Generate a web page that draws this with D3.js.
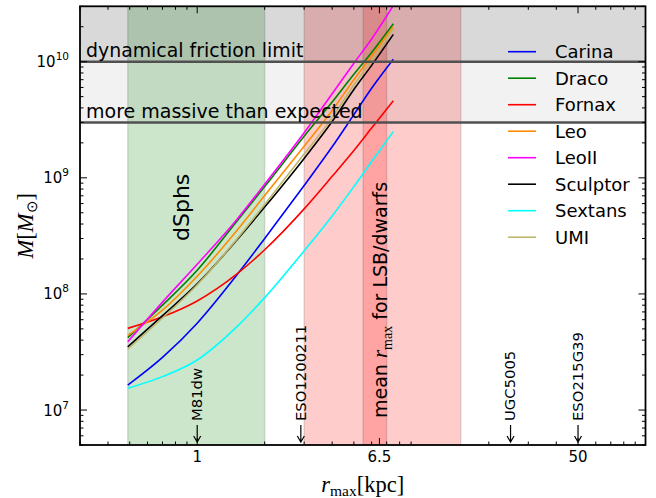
<!DOCTYPE html>
<html>
<head>
<meta charset="utf-8">
<script src="https://cdn.jsdelivr.net/npm/d3@7"></script>
<style>
  body { margin: 0; background: #fff; }
  svg { display: block; font-family: "DejaVu Sans", sans-serif; }
</style>
</head>
<body>
<svg id="chart" width="656" height="498"></svg>
<script>
const rPoints = [0.49, 0.7, 1, 1.5, 2, 3, 4, 5, 6, 7.5]

const galaxies = ["Carina", "Draco", "Fornax", "Leo", "LeoII", "Sculptor", "Sextans", "UMI"]
const galaxyColors = ["#0000ff", "#008000", "#ff0000", "#ff8c00", "#ff00ff", "#000000", "#00ffff", "#bdb76b"]

const massCarina   = [1.64e7, 2.84e7, 5.6e7, 1.45e8, 3.0e8, 8.6e8, 1.85e9, 3.5e9, 5.9e9, 1.05e10]
const massDraco    = [4.2e7, 8.0e7, 1.6e8, 4.2e8, 8.4e8, 2.28e9, 4.5e9, 7.8e9, 1.2e10, 2.12e10]
const massFornax   = [5.05e7, 6.35e7, 8.7e7, 1.48e8, 2.4e8, 5.4e8, 1.03e9, 1.72e9, 2.68e9, 4.6e9]
const massLeo      = [4.4e7, 7.25e7, 1.42e8, 3.5e8, 7.05e8, 1.87e9, 3.8e9, 7.0e9, 1.12e10, 2.0e10]
const massLeoII    = [3.87e7, 8.5e7, 1.8e8, 4.36e8, 8.8e8, 2.44e9, 5.3e9, 9.7e9, 1.57e10, 3.05e10]
const massSculptor = [3.5e7, 6.5e7, 1.22e8, 2.9e8, 5.6e8, 1.47e9, 3.05e9, 5.76e9, 9.3e9, 1.72e10]
const massSextans  = [1.54e7, 1.94e7, 2.7e7, 5.2e7, 9.3e7, 2.35e8, 4.7e8, 8.4e8, 1.38e9, 2.5e9]
const massUMI      = [3.35e7, 6.2e7, 1.2e8, 2.95e8, 5.9e8, 1.6e9, 3.3e9, 6.3e9, 1.03e10, 1.92e10]
const galaxyMasses = [massCarina, massDraco, massFornax, massLeo, massLeoII, massSculptor, massSextans, massUMI]

// shaded r_max ranges
const dsphBand = [0.49, 2]
const lsbBand = [3, 15]
const lsbMeanBand = [5.5, 7]

// mass limits
const frictionLimit = 1e10
const expectedLimit = 3e9

// individual galaxies marked with arrows
const markerNames = ["M81dw", "ESO1200211", "UGC5005", "ESO215G39"]
const markerR = [1, 2.9, 25, 50]

const xTickValues = [1, 6.5, 50]
const xTickLabels = ["1", "6.5", "50"]
const yTickExponents = [7, 8, 9, 10]

const xDomain = [0.3, 100]
const yDomain = [5e6, 3e10]

const pLeft = 80, pRight = 645.5, pTop = 6.3, pBottom = 445

const svg = d3.select("#chart")

const x = d3.scaleLog().domain(xDomain).range([pLeft, pRight])
const y = d3.scaleLog().domain(yDomain).range([pBottom, pTop])

svg.append("defs").append("clipPath").attr("id", "plotclip")
    .append("rect")
    .attr("x", pLeft).attr("y", pTop)
    .attr("width", pRight - pLeft).attr("height", pBottom - pTop)

const plot = svg.append("g").attr("clip-path", "url(#plotclip)")

// vertical bands
const bands = [
    { r: dsphBand, fill: "rgba(0,128,0,0.2)" },
    { r: lsbBand, fill: "rgba(255,0,0,0.2)" },
    { r: lsbMeanBand, fill: "rgba(255,0,0,0.2)" }
]
bands.forEach(b => {
    plot.append("rect")
        .attr("x", x(b.r[0]))
        .attr("y", pTop)
        .attr("width", x(b.r[1]) - x(b.r[0]))
        .attr("height", pBottom - pTop)
        .attr("fill", b.fill)
    b.r.forEach(v => {
        plot.append("line")
            .attr("x1", x(v)).attr("x2", x(v))
            .attr("y1", pTop).attr("y2", pBottom)
            .attr("stroke", "rgba(0,0,0,0.12)")
            .attr("stroke-width", 1.5)
    })
})

// horizontal grey regions
plot.append("rect")
    .attr("x", pLeft).attr("width", pRight - pLeft)
    .attr("y", pTop).attr("height", y(expectedLimit) - pTop)
    .attr("fill", "rgba(0,0,0,0.05)")
plot.append("rect")
    .attr("x", pLeft).attr("width", pRight - pLeft)
    .attr("y", pTop).attr("height", y(frictionLimit) - pTop)
    .attr("fill", "rgba(0,0,0,0.1)")

// mass curves
const line = d3.line()
    .x(d => x(d[0]))
    .y(d => y(d[1]))
    .curve(d3.curveMonotoneX)

galaxyMasses.forEach((masses, i) => {
    plot.append("path")
        .datum(rPoints.map((r, j) => [r, masses[j]]))
        .attr("d", line)
        .attr("fill", "none")
        .attr("stroke", galaxyColors[i])
        .attr("stroke-width", 1.6)
})

// limit lines
;[frictionLimit, expectedLimit].forEach(v => {
    plot.append("line")
        .attr("x1", pLeft).attr("x2", pRight)
        .attr("y1", y(v)).attr("y2", y(v))
        .attr("stroke", "#505050")
        .attr("stroke-width", 2.5)
})

svg.append("text")
    .attr("x", 86).attr("y", y(frictionLimit) - 5)
    .attr("font-size", 18.9)
    .text("dynamical friction limit")
svg.append("text")
    .attr("x", 86).attr("y", y(expectedLimit) - 4)
    .attr("font-size", 19)
    .text("more massive than expected")

// rotated band labels
svg.append("text")
    .attr("transform", `translate(189,241) rotate(-90)`)
    .attr("font-size", 22)
    .text("dSphs")

const meanLabel = svg.append("text")
    .attr("transform", `translate(387,418) rotate(-90)`)
    .attr("font-size", 19)
meanLabel.append("tspan").text("mean ")
meanLabel.append("tspan").attr("font-family", "Liberation Serif, serif").attr("font-style", "italic").attr("font-size", 21).text("r")
meanLabel.append("tspan").attr("font-family", "Liberation Serif, serif").attr("font-size", 14).attr("dy", 5).text("max")
meanLabel.append("tspan").attr("dy", -5).text(" for LSB/dwarfs")

// galaxy markers
markerR.forEach((r, i) => {
    const mx = x(r)
    svg.append("path")
        .attr("d", `M${mx},425 L${mx},442 M${mx - 3.5},436 L${mx},442 L${mx + 3.5},436`)
        .attr("fill", "none")
        .attr("stroke", "#000")
        .attr("stroke-width", 1.2)
    svg.append("text")
        .attr("transform", `translate(${mx + 4.8},421) rotate(-90)`)
        .attr("font-size", 14.8)
        .text(markerNames[i])
})

// ticks (inward, all four sides)
const ax = svg.append("g").attr("stroke", "#000").attr("stroke-width", 1)
const xMinor = []
;[0.1, 1, 10].forEach(dec => {
    for (let k = 2; k <= 9; k++) {
        const v = k * dec
        if (v >= xDomain[0] && v <= xDomain[1] && !xTickValues.includes(v)) xMinor.push(v)
    }
})
const yMinor = []
;[1e6, 1e7, 1e8, 1e9, 1e10].forEach(dec => {
    for (let k = 2; k <= 9; k++) {
        const v = k * dec
        if (v >= yDomain[0] && v <= yDomain[1]) yMinor.push(v)
    }
})
const yMajor = yTickExponents.map(e => Math.pow(10, e))

const xTick = (v, len) => {
    ax.append("line").attr("x1", x(v)).attr("x2", x(v)).attr("y1", pBottom).attr("y2", pBottom - len)
    ax.append("line").attr("x1", x(v)).attr("x2", x(v)).attr("y1", pTop).attr("y2", pTop + len)
}
const yTick = (v, len) => {
    ax.append("line").attr("y1", y(v)).attr("y2", y(v)).attr("x1", pLeft).attr("x2", pLeft + len)
    ax.append("line").attr("y1", y(v)).attr("y2", y(v)).attr("x1", pRight).attr("x2", pRight - len)
}
xMinor.forEach(v => xTick(v, 3.5))
xTickValues.forEach(v => xTick(v, 7))
yMinor.forEach(v => yTick(v, 3.5))
yMajor.forEach(v => yTick(v, 7))

// frame
svg.append("rect")
    .attr("x", pLeft).attr("y", pTop)
    .attr("width", pRight - pLeft).attr("height", pBottom - pTop)
    .attr("fill", "none")
    .attr("stroke", "#000")
    .attr("stroke-width", 1.8)

// tick labels
xTickValues.forEach((v, i) => {
    svg.append("text")
        .attr("x", x(v)).attr("y", 462)
        .attr("text-anchor", "middle")
        .attr("font-size", 15)
        .text(xTickLabels[i])
})
yTickExponents.forEach(e => {
    const t = svg.append("text")
        .attr("x", 69).attr("y", y(Math.pow(10, e)) + 5.5)
        .attr("text-anchor", "end")
        .attr("font-size", 15)
    t.append("tspan").text("10")
    t.append("tspan").attr("font-size", 10.5).attr("dy", -7).text(e)
})

// axis labels
const xLabel = svg.append("text")
    .attr("x", (pLeft + pRight) / 2).attr("y", 492)
    .attr("text-anchor", "middle")
    .attr("font-family", "Liberation Serif, serif")
    .attr("font-size", 22.5)
xLabel.append("tspan").attr("font-style", "italic").text("r")
xLabel.append("tspan").attr("font-size", 15.5).attr("dy", 4).text("max")
xLabel.append("tspan").attr("dy", -4).text("[kpc]")

const yLabel = svg.append("text")
    .attr("transform", `translate(33,${(pTop + pBottom) / 2}) rotate(-90)`)
    .attr("text-anchor", "middle")
    .attr("font-family", "Liberation Serif, serif")
    .attr("font-size", 22.5)
yLabel.append("tspan").attr("font-style", "italic").text("M")
yLabel.append("tspan").text("[")
yLabel.append("tspan").attr("font-style", "italic").text("M")
yLabel.append("tspan").attr("font-size", 15).attr("dy", 4).text("\u2299")
yLabel.append("tspan").attr("dy", -4).text("]")

// legend
const legend = svg.append("g")
galaxies.forEach((name, i) => {
    const ly = 51.7 + i * 26.5
    legend.append("line")
        .attr("x1", 508).attr("x2", 536)
        .attr("y1", ly).attr("y2", ly)
        .attr("stroke", galaxyColors[i])
        .attr("stroke-width", 1.6)
    legend.append("text")
        .attr("x", 555).attr("y", ly + 6.5)
        .attr("font-size", 18)
        .text(name)
})
</script>
</body>
</html>
